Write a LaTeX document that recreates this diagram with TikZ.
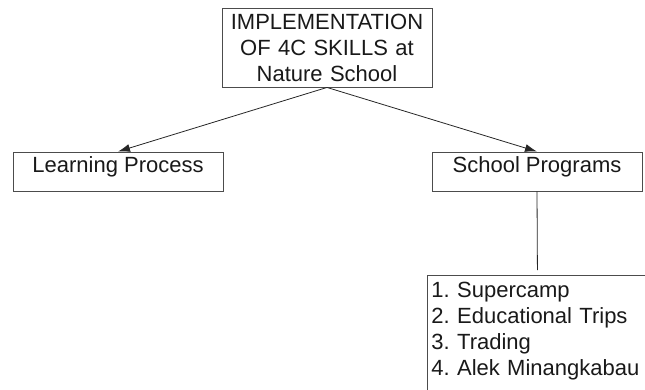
\documentclass[tikz,border=0pt]{standalone}
\usepackage{fontspec}
\setmainfont{Liberation Sans}
\usetikzlibrary{arrows.meta}
\frenchspacing

\begin{document}
\begin{tikzpicture}[
x=1pt, y=-1pt,
every node/.style={font=\fontsize{22}{26}\selectfont, text=black!90},
topbox/.style={draw=black!70, line width=0.9pt, minimum width=210pt, minimum height=79pt, text width=205pt, align=center, inner sep=0pt},
itembox/.style={draw=black!70, line width=0.9pt, minimum width=210pt, text height=16pt, text depth=14pt, inner sep=4.5pt},
listbox/.style={draw=black!70, line width=0.9pt, text width=212pt, align=left, text height=18pt, text depth=108pt, inner sep=4pt},
link/.style={draw=black!85, line width=0.8pt, -{Latex[length=12pt,width=8pt]}}]

\useasboundingbox (0,0) rectangle (645,389);
\clip (0,0) rectangle (645,389);

\node[topbox] (impl) at (327,47.5) {IMPLEMENTATION\\OF 4C SKILLS at\\Nature School};

\node[itembox] (learning) at (118,171.5) {Learning Process};
\node[itembox] (programs) at (537,171.5) {School Programs};

\node[listbox, anchor=north west] (list) at (427,275) {1. Supercamp\\2. Educational Trips\\3. Trading\\4. Alek Minangkabau};

\draw[link] (impl.south) -- (learning.north);
\draw[link] (impl.south) -- (programs.north);
\draw[black!85, line width=0.8pt, shorten >=5pt] (programs.south) -- (list.north);

\end{tikzpicture}
\end{document}
